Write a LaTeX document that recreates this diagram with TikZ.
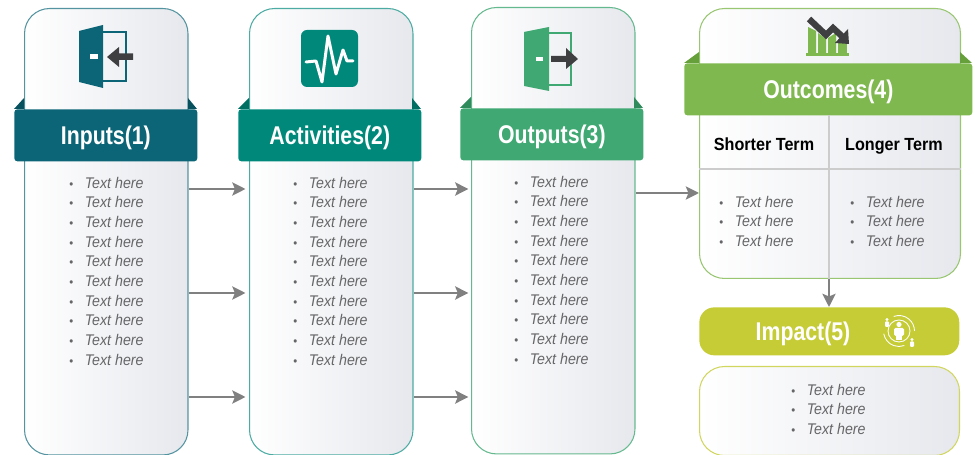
\documentclass[tikz,border=0pt]{standalone}
\usepackage{fontspec}
\setmainfont{Liberation Sans}
\newfontfamily\narrowfont[FakeStretch=0.92]{Liberation Sans}
\newfontfamily\titlefont[FakeStretch=0.83]{Liberation Sans}
\usetikzlibrary{arrows.meta}
\definecolor{inputsteal}{HTML}{0B6577}
\definecolor{inputsflap}{HTML}{07505E}
\definecolor{activitiesteal}{HTML}{00897B}
\definecolor{activitiesflap}{HTML}{006F63}
\definecolor{outputsgreen}{HTML}{3FA873}
\definecolor{outputsflap}{HTML}{2F8A5C}
\definecolor{outcomesgreen}{HTML}{7EB84E}
\definecolor{outcomesflap}{HTML}{66A03A}
\definecolor{impactlime}{HTML}{C5CC36}
\definecolor{darkicon}{HTML}{3F3F41}
\definecolor{textgray}{HTML}{666668}
\definecolor{panelgray}{HTML}{E6E8ED}
\newcommand{\itemline}{\makebox[8.8pt][l]{\scriptsize\textbullet}\textit{Text here}}
\newcommand{\threelines}{\itemline\\\itemline\\\itemline}
\newcommand{\tenlines}{\threelines\\\threelines\\\threelines\\\itemline}
\tikzset{inset sep/.style={inner sep=#1}}
\tikzstyle{panel}=[anchor=north west,inset sep=0pt,rounded corners=0.5cm,left color=white,right color=panelgray,line width=0.6pt]
\tikzstyle{column}=[panel,minimum width=3.27cm,minimum height=8.93cm]
\tikzstyle{titletext}=[text=white,text height=10pt,text depth=0pt,font={\titlefont\bfseries\fontsize{14.6}{16}\selectfont}]
\tikzstyle{band}=[titletext,anchor=north west,rounded corners=0.06cm,minimum height=1.04cm,minimum width=3.66cm]
\tikzstyle{textlist}=[anchor=north west,align=left,inner sep=0pt,text=textgray,font={\narrowfont\fontsize{8.8}{11.2}\selectfont}]
\tikzstyle{term}=[inner sep=0pt,anchor=base,font={\narrowfont\bfseries\fontsize{10}{12}\selectfont}]
\tikzstyle{flow}=[draw=gray,line width=1.3pt,-{Stealth[length=7.5pt,width=7.5pt,inset=1.5pt]}]
\begin{document}
\begin{tikzpicture}[x=0.02cm,y=-0.02cm]
\useasboundingbox (0,0) rectangle (975,455);

% columns
\node [column,draw=inputsteal!70] (inputsbox) at (24,8) {};
\node [column,draw=activitiesteal!70] (activitiesbox) at (249,8) {};
\node [column,draw=outputsgreen!80] (outputsbox) at (471,7) {};
\node [panel,draw=outcomesgreen!80,minimum width=5.22cm,minimum height=5.4cm] (outcomesbox) at (699,8) {};
\node [panel,draw=impactlime!80,minimum width=5.2cm,minimum height=1.78cm] (impactbox) at (699,366) {};

% flaps
\fill [inputsflap] (14,109) -- (24,98) -- (24,109) -- cycle (197,109) -- (188,98) -- (188,109) -- cycle;
\fill [activitiesflap] (238,109) -- (249,98) -- (249,109) -- cycle (421,109) -- (412,98) -- (412,109) -- cycle;
\fill [outputsflap] (460,108) -- (471,97) -- (471,108) -- cycle (643,108) -- (634,97) -- (634,108) -- cycle;
\fill [outcomesflap] (684,63) -- (699,52) -- (699,63) -- cycle (972,63) -- (960,52) -- (960,63) -- cycle;

% title bands
\node [band,fill=inputsteal] (inputs) at (14,109) {Inputs(1)};
\node [band,fill=activitiesteal] (activities) at (238,109) {Activities(2)};
\node [band,fill=outputsgreen] (outputs) at (460,108) {Outputs(3)};
\node [band,fill=outcomesgreen,minimum width=5.76cm] (outcomes) at (684,63) {Outcomes(4)};
\node [band,fill=impactlime,minimum width=5.2cm,minimum height=0.96cm,rounded corners=0.3cm] (impactbar) at (699,307) {};
\node [titletext,inner sep=0pt] (impact) at (803,332) {Impact(5)};

% lists
\node [textlist] (inputslist) at (69,176.5) {\tenlines};
\node [textlist] (activitieslist) at (293,176.5) {\tenlines};
\node [textlist] (outputslist) at (514,175.5) {\tenlines};
\node [textlist] (shorterlist) at (719,195.5) {\threelines};
\node [textlist] (longerlist) at (850,195.5) {\threelines};
\node [textlist] (impactlist) at (791,383.5) {\threelines};

% outcomes table
\node [term] (shorter) at (764,151) {Shorter Term};
\node [term] (longer) at (894,151) {Longer Term};
\coordinate (splittop) at (829,115);
\coordinate (splitrow) at (699,169);
\draw [gray!40,line width=0.6pt] (splittop) -- (splittop |- outcomesbox.south);
\draw [gray!40,line width=0.6pt] (splitrow) -- (splitrow -| outcomesbox.east);

% connectors
\foreach \ypos [count=\i] in {189,293,397}{
  \coordinate (rowa\i) at (0,\ypos);
  \draw [flow,shorten >=2pt] (inputsbox.east |- rowa\i) -- (activitiesbox.west |- rowa\i);
  \draw [flow,shorten >=1.5pt] (activitiesbox.east |- rowa\i) -- (outputsbox.west |- rowa\i);
}
\coordinate (rowc) at (0,193);
\draw [flow,shorten <=0.5pt] (outputsbox.east |- rowc) -- (outcomesbox.west |- rowc);
\draw [flow] (splittop |- outcomesbox.south) -- (splittop |- impactbar.north);

% door icon, inputs
\fill [inputsteal] (79,31) -- (103,25) -- (103,88) -- (79,82) -- cycle;
\draw [inputsteal,line width=0.9pt] (103,32) -- (126,32) -- (126,81) -- (103,81);
\fill [white] (90,54) rectangle (98,59);
\fill [darkicon] (107,57) -- (119,47) -- (119,53.5) -- (133,53.5) -- (133,60) -- (119,60) -- (119,67) -- cycle;

% pulse icon, activities
\fill [activitiesteal,rounded corners=0.12cm] (301,30) rectangle (358,87);
\draw [white,line width=1.7pt,line join=round,line cap=round] (306,62) -- (316,61) -- (322,82) -- (328,36) -- (336,74) -- (343,50) -- (347,61) -- (353,61);

% door icon, outputs
\fill [outputsgreen] (524,32) -- (549,27) -- (549,91) -- (524,86) -- cycle;
\draw [outputsgreen,line width=0.9pt] (549,33) -- (571,33) -- (571,85) -- (549,85);
\fill [white] (536,57) rectangle (543,61);
\fill [darkicon] (578,59) -- (566,48) -- (566,56) -- (551,56) -- (551,62) -- (566,62) -- (566,69) -- cycle;

% chart icon, outcomes
\fill [outcomesgreen] (806,53) rectangle (849,56);
\fill [outcomesgreen] (808,27) -- (816,31) -- (816,53) -- (808,53) -- cycle;
\fill [outcomesgreen] (818,33) -- (826,39) -- (826,53) -- (818,53) -- cycle;
\fill [outcomesgreen] (828,38) -- (836,33) -- (836,53) -- (828,53) -- cycle;
\fill [outcomesgreen] (838,43) -- (847,43) -- (847,53) -- (838,53) -- cycle;
\draw [darkicon,line width=3.6pt] (809,19) -- (826,35) -- (833,28) -- (845,39);
\fill [darkicon] (848,29) -- (849,44) -- (835,43) -- cycle;

% people icon, impact
\draw [white,line width=0.5pt] (899,331) circle (11);
\draw [white,line width=0.5pt] (899,331) ++(-110:15.5) arc (-110:0:15.5);
\draw [white,line width=0.5pt] (899,331) ++(170:15.5) arc (170:70:15.5);
\fill [white] (899,324.5) circle (2.6);
\fill [white,rounded corners=0.03cm] (894,328) rectangle (904,336);
\fill [white] (896,335) rectangle (902,340);
\fill [white] (887,319.5) circle (1.7);
\fill [white,rounded corners=0.02cm] (885,321.5) rectangle (889,327);
\fill [white] (912,339.5) circle (1.7);
\fill [white,rounded corners=0.02cm] (910,341.5) rectangle (914,347);
\end{tikzpicture}
\end{document}
